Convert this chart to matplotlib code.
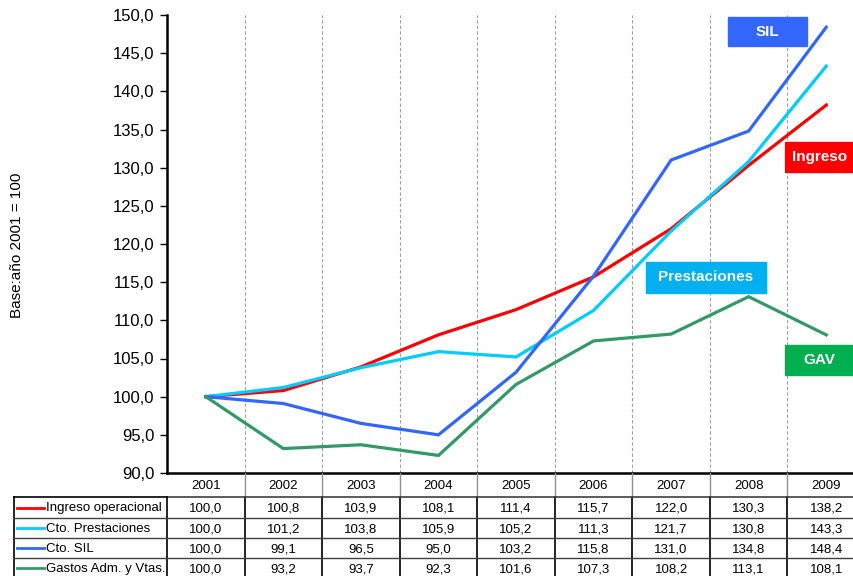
import matplotlib
matplotlib.use("Agg")
import matplotlib.pyplot as plt
from matplotlib.patches import Rectangle
from matplotlib.ticker import FuncFormatter

plt.rcParams['font.family'] = ['Liberation Sans', 'DejaVu Sans']

years = ["2001", "2002", "2003", "2004", "2005", "2006", "2007", "2008", "2009"]
ingreso = [100.0, 100.8, 103.9, 108.1, 111.4, 115.7, 122.0, 130.3, 138.2]
prestaciones = [100.0, 101.2, 103.8, 105.9, 105.2, 111.3, 121.7, 130.8, 143.3]
sil = [100.0, 99.1, 96.5, 95.0, 103.2, 115.8, 131.0, 134.8, 148.4]
gav = [100.0, 93.2, 93.7, 92.3, 101.6, 107.3, 108.2, 113.1, 108.1]

series_names = ["Ingreso operacional", "Cto. Prestaciones", "Cto. SIL", "Gastos Adm. y Vtas."]
series_vals = [ingreso, prestaciones, sil, gav]
series_cols = ["#FF0000", "#00CCFF", "#3366FF", "#339966"]

tags = ["SIL", "Ingreso", "Prestaciones", "GAV"]
tag_cols = ["#3366FF", "#FF0000", "#00B0F0", "#00B050"]

W, H = 854, 576
fig = plt.figure(figsize=(W / 100, H / 100), dpi=100)

# pixel helpers
def fx(px):
    return px / W

def fy(py):
    return 1 - py / H

x0, x1, ytop, ybot = 167, 865, 15, 473
ax = fig.add_axes([fx(x0), fy(ybot), fx(x1) - fx(x0), fy(ytop) - fy(ybot)])
xs = range(len(years))

# draw order: green, blue, red, cyan
for i in [3, 2, 0, 1]:
    ax.plot(xs, series_vals[i], color=series_cols[i], lw=2.3, solid_joinstyle='miter', zorder=3 + i)

ax.set_xlim(-0.5, len(years) - 0.5)
ax.set_ylim(90, 150)
ax.set_yticks(range(90, 151, 5))
ax.yaxis.set_major_formatter(FuncFormatter(lambda v, p: f"{v:.1f}".replace(".", ",")))
ax.tick_params(axis='y', labelsize=12, length=5, width=1, direction='out', pad=4)
ax.set_xticks([])
for k in range(1, len(years)):
    ax.axvline(k - 0.5, color='#A0A0A0', lw=0.8, ls=(0, (3, 2)), zorder=1)
for s in ['top', 'right']:
    ax.spines[s].set_visible(False)
ax.spines['left'].set_linewidth(1.8)
ax.spines['bottom'].set_linewidth(1.8)
fig.text(fx(17), fy(245), "Base:año 2001 = 100", fontsize=11, rotation=90, ha='center', va='center')

# data table below the axis
colw = (x1 - x0) / len(years)
left_edge = -0.5 - (x0 - 13) / colw
tb = fig.add_axes([fx(13), fy(578), fx(x1) - fx(13), fy(473) - fy(578)])
tb.set_xlim(left_edge, len(years) - 0.5)
tb.set_ylim(578, 473)
tb.axis('off')
row_edges = [473, 497, 518, 538, 558, 578]

# header row
for k in range(1, len(years)):
    tb.plot([k - 0.5, k - 0.5], [row_edges[0], row_edges[1]], color='#909090', lw=1)
for i, y in enumerate(years):
    tb.text(i, (row_edges[0] + row_edges[1]) / 2 + 1, y, ha='center', va='center', fontsize=9.5)

# data rows
for k in range(0, len(years)):
    tb.plot([k - 0.5, k - 0.5], [row_edges[1], row_edges[-1]], color='black', lw=1.2)
tb.plot([left_edge + 0.01, left_edge + 0.01], [row_edges[1], row_edges[-1]], color='black', lw=1.2)
tb.plot([-0.5, len(years) - 0.5], [row_edges[1], row_edges[1]], color='#404040', lw=1.2)
for r in range(2, len(row_edges)):
    tb.plot([left_edge, len(years) - 0.5], [row_edges[r], row_edges[r]], color='#404040', lw=1)
tb.plot([left_edge, -0.5], [row_edges[1], row_edges[1]], color='black', lw=1.2)

for r, (name, vals, c) in enumerate(zip(series_names, series_vals, series_cols)):
    yc = (row_edges[r + 1] + row_edges[r + 2]) / 2 + 1
    tb.plot([left_edge + 0.05, left_edge + 0.4], [yc - 1, yc - 1], color=c, lw=2)
    tb.text(left_edge + 0.42, yc, name, ha='left', va='center', fontsize=9.5)
    for i, v in enumerate(vals):
        tb.text(i, yc, f"{v:.1f}".replace(".", ","), ha='center', va='center', fontsize=9.5)

# coloured labels
boxes = [(728, 17, 807, 46), (785, 142, 860, 172), (646, 262, 766, 293), (785, 345, 860, 375)]
for t, c, (bx0, by0, bx1, by1) in zip(tags, tag_cols, boxes):
    fig.patches.append(Rectangle((fx(bx0), fy(by1)), fx(bx1) - fx(bx0), fy(by0) - fy(by1),
                                 transform=fig.transFigure, color=c, zorder=10))
    cx = (bx0 + min(bx1, 854)) / 2 if t in ("Ingreso", "GAV") else (bx0 + bx1) / 2
    fig.text(fx(cx), fy((by0 + by1) / 2), t, color='white', fontsize=11, fontweight='bold',
             ha='center', va='center', zorder=11)

fig.savefig("out.png", dpi=100)
